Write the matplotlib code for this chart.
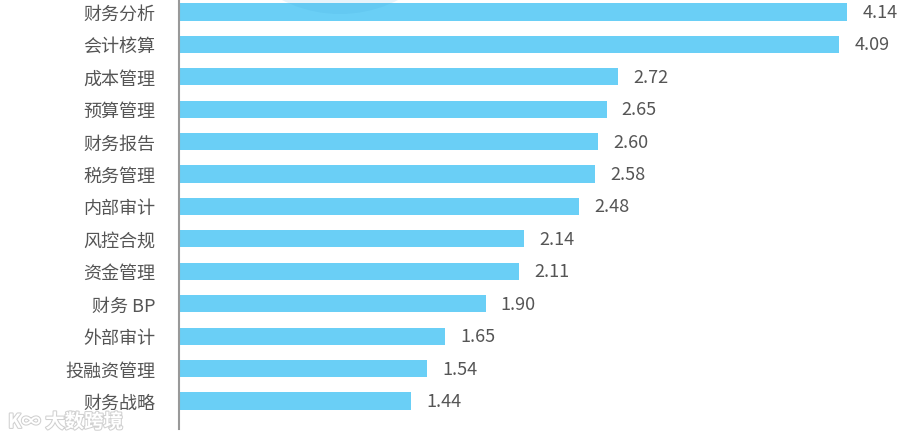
import matplotlib.pyplot as plt
import matplotlib.patheffects as pe
from matplotlib.patches import Circle

plt.rcParams['font.family'] = ['Noto Sans CJK SC', 'DejaVu Sans']

categories = ['财务分析', '会计核算', '成本管理', '预算管理', '财务报告', '税务管理',
              '内部审计', '风控合规', '资金管理', '财务 BP', '外部审计', '投融资管理',
              '财务战略']
values = [4.14, 4.09, 2.72, 2.65, 2.60, 2.58, 2.48, 2.14, 2.11, 1.90, 1.65, 1.54, 1.44]

W, H = 907, 435
fig = plt.figure(figsize=(W / 100, H / 100), dpi=100)

ax = fig.add_axes([179 / W, 5 / H, 726 / W, 430 / H])
ax.patch.set_alpha(0)

ypos = list(range(len(categories)))
ax.barh(ypos, values, height=0.53, color='#6acff6', zorder=2)

for y, v in zip(ypos, values):
    ax.annotate(f'{v:.2f}', (v, y), xytext=(11, 0), textcoords='offset points',
                va='center', ha='left', fontsize=13, color='#555555',
                fontweight='light')

ax.set_xlim(0, 4.5)
ax.set_ylim(12.864, -0.4)
ax.set_yticks(ypos)
ax.set_yticklabels(categories, fontsize=13, color='#555555', fontweight='light')
ax.tick_params(axis='y', length=0, pad=17)
ax.set_xticks([])

for side in ['top', 'right', 'bottom']:
    ax.spines[side].set_visible(False)
ax.spines['left'].set_color('#999999')
ax.spines['left'].set_linewidth(1.5)

# faint decorative circle peeking in at the top, over the first bar
fig.patches.append(Circle((3.4, 4.35 + 1.125), 1.275, transform=fig.dpi_scale_trans,
                          facecolor='#3a9fd6', alpha=0.12, lw=0, zorder=5))

# watermark
fig.text(8 / W, 12 / H, 'K∞ 大数跨境', fontsize=14, color='white',
         fontweight='bold', ha='left', va='center', zorder=5,
         path_effects=[pe.withStroke(linewidth=1.5, foreground='#d0d0d0')])

fig.savefig('out.png', dpi=100)
